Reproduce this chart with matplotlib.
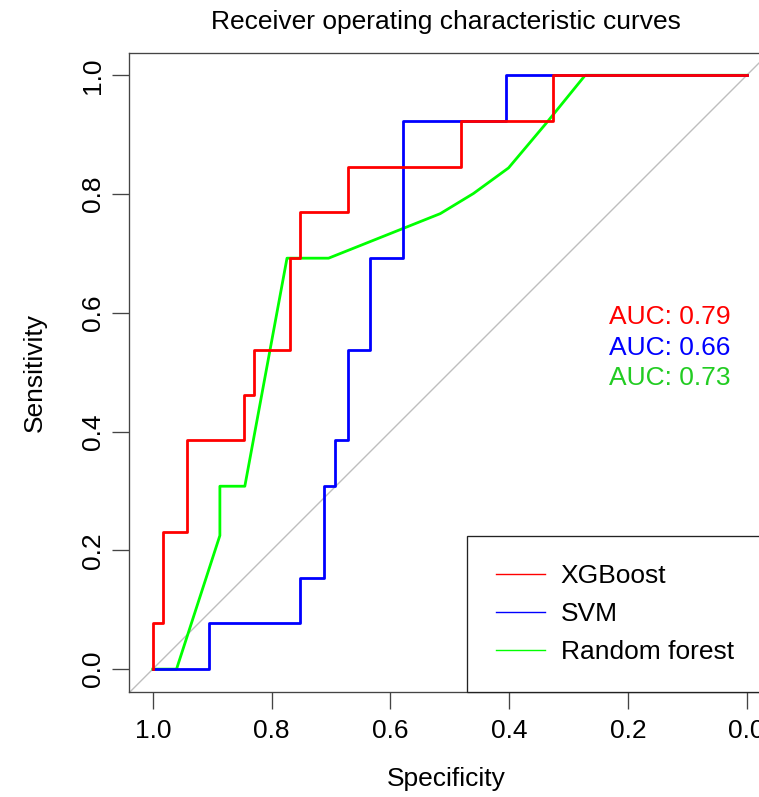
import matplotlib
matplotlib.use("Agg")
import matplotlib.pyplot as plt
from matplotlib.ticker import FormatStrFormatter

plt.rcParams['font.family'] = ['Liberation Sans', 'DejaVu Sans']

# ROC corner points (specificity, sensitivity)
xgb_spec = [1.0, 1.0, 0.983, 0.983, 0.943, 0.943, 0.846, 0.846, 0.829, 0.829,
            0.769, 0.769, 0.752, 0.752, 0.672, 0.672, 0.481, 0.481, 0.327, 0.327, 0.0]
xgb_sens = [0.0, 0.077, 0.077, 0.231, 0.231, 0.385, 0.385, 0.462, 0.462, 0.538,
            0.538, 0.692, 0.692, 0.769, 0.769, 0.846, 0.846, 0.923, 0.923, 1.0, 1.0]

svm_spec = [1.0, 0.905, 0.905, 0.752, 0.752, 0.712, 0.712, 0.693, 0.693, 0.672,
            0.672, 0.634, 0.634, 0.578, 0.578, 0.405, 0.405, 0.0]
svm_sens = [0.0, 0.0, 0.077, 0.077, 0.154, 0.154, 0.308, 0.308, 0.385, 0.385,
            0.538, 0.538, 0.692, 0.692, 0.923, 0.923, 1.0, 1.0]

rf_spec = [1.0, 0.960, 0.887, 0.887, 0.845, 0.774, 0.704, 0.516, 0.460, 0.401,
           0.337, 0.272, 0.0]
rf_sens = [0.0, 0.0, 0.225, 0.308, 0.308, 0.692, 0.692, 0.767, 0.801, 0.844,
           0.920, 1.0, 1.0]

models = ['XGBoost', 'SVM', 'Random forest']
auc_values = [0.79, 0.66, 0.73]
colors = ['#FF0000', '#0000FF', '#00FF00']
text_colors = ['#FF0000', '#0000FF', '#22CC22']

fig = plt.figure(figsize=(7.59, 7.97), dpi=100)
ax = fig.add_axes([0.16996, 0.13137, 0.8452, 0.80176])

ax.axline((1, 0), (0, 1), color='#BEBEBE', lw=1.0, zorder=1)

# drawn back to front: random forest, svm, xgboost on top
l_rf, = ax.plot(rf_spec, rf_sens, color=colors[2], lw=2.0, zorder=2, label=models[2])
l_svm, = ax.plot(svm_spec, svm_sens, color=colors[1], lw=2.0, zorder=3, label=models[1])
l_xgb, = ax.plot(xgb_spec, xgb_sens, color=colors[0], lw=2.0, zorder=4, label=models[0])

ax.set_xlim(1.04, -0.04)
ax.set_ylim(-0.039, 1.037)
ticks = [1.0, 0.8, 0.6, 0.4, 0.2, 0.0]
ax.set_xticks(ticks)
ax.set_yticks(ticks)
ax.xaxis.set_major_formatter(FormatStrFormatter('%.1f'))
ax.yaxis.set_major_formatter(FormatStrFormatter('%.1f'))
ax.tick_params(axis='both', length=12.2, width=0.95, color='#444444',
               labelsize=19, labelcolor='black')
ax.tick_params(axis='x', pad=7.2)
ax.tick_params(axis='y', pad=5.3, labelrotation=90)
for lab in ax.get_yticklabels():
    lab.set_va('center')

for sp in ax.spines.values():
    sp.set_color('#444444')
    sp.set_linewidth(0.95)

ax.set_title('Receiver operating characteristic curves', fontsize=19, pad=17.3, x=0.494)
ax.set_xlabel('Specificity', fontsize=19)
ax.set_ylabel('Sensitivity', fontsize=19)
ax.xaxis.set_label_coords(0.494, -0.1163)
ax.yaxis.set_label_coords(-0.1275, 0.5)

auc_y = [0.582, 0.529, 0.479]
for v, c, yy in zip(auc_values, text_colors, auc_y):
    ax.text(0.232, yy, f'AUC: {v:.2f}', color=c, fontsize=19, ha='left', va='baseline')

leg = ax.legend(handles=[l_xgb, l_svm, l_rf], loc='lower left',
                bbox_to_anchor=(0.527, 0.0, 0.473, 0.3), mode='expand',
                borderaxespad=0, fontsize=19, frameon=True, fancybox=False,
                edgecolor='#222222', borderpad=1.08, labelspacing=0.52,
                handlelength=1.87, handletextpad=0.6)
leg.get_frame().set_linewidth(0.95)
leg.get_frame().set_alpha(None)
for ln in leg.get_lines():
    ln.set_linewidth(1.0)

fig.savefig('out.png', dpi=100)
